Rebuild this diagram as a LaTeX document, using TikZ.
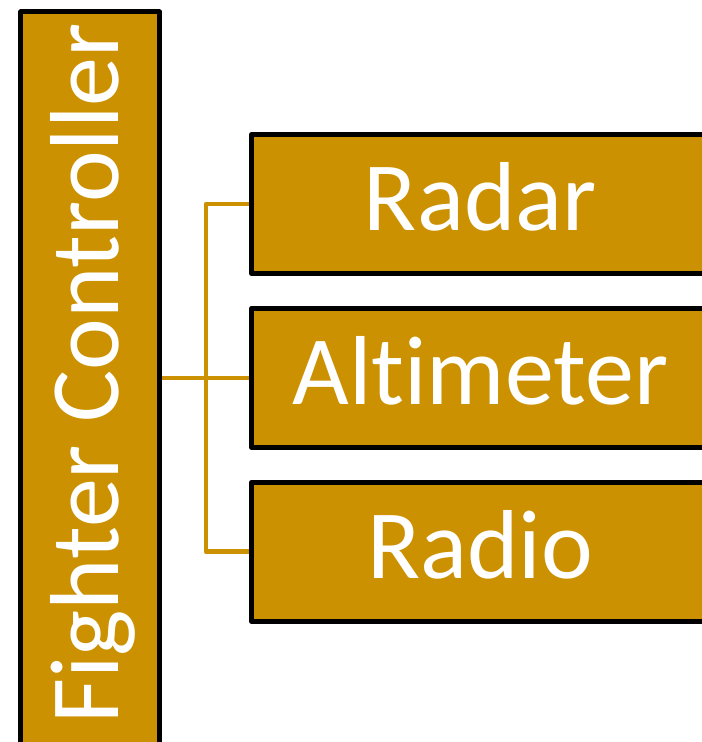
\documentclass[tikz,border=0pt]{standalone}
\usepackage{fontspec}
\setmainfont{Carlito}[Ligatures={NoCommon,NoRequired,NoContextual}]
\usetikzlibrary{positioning}
\definecolor{gold}{RGB}{204,145,0}

\begin{document}
\begin{tikzpicture}[
  x=0.75pt, y=-0.75pt,
  every node/.style={font=\fontsize{73.5}{80}\selectfont, text=white},
  unit/.style={draw=black, line width=3.75pt, line join=round, fill=gold, minimum width=343.1pt, minimum height=104.25pt, text height=40pt, text depth=0pt, inner sep=0pt},
  link/.style={draw=gold, line width=3.6pt, line join=round}
]
\useasboundingbox (0,0) rectangle (701,742);
\node[draw=black, line width=3.75pt, line join=round, fill=gold, minimum width=104.25pt, minimum height=561pt, inner sep=0pt] (ctrl) at (90.2,386) {};
\node[rotate=90, anchor=base, inner sep=0pt] (ctrltext) at (118,373.5) {Fighter Controller};
\node[unit] (radar) at (480.25,204) {Radar};
\node[unit] (altimeter) at (480.25,377.9) {Altimeter};
\node[unit] (radio) at (480.25,551.75) {Radio};
\coordinate (bus) at (206,377.5);
\draw[link] (ctrl.east |- altimeter) -- (altimeter.west);
\draw[link] (radar.west) -| (bus) |- (radio.west);
\end{tikzpicture}
\end{document}
